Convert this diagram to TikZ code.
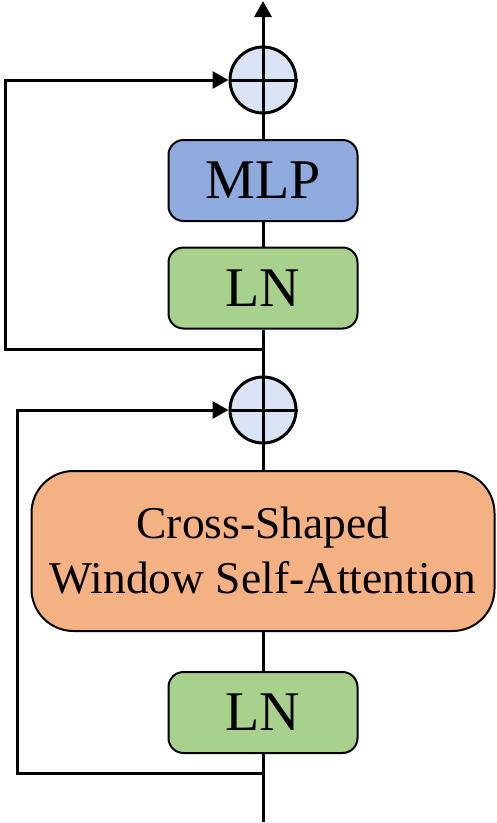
\documentclass[tikz,border=0pt]{standalone}
\usepackage{fontspec}
\setmainfont{Liberation Serif}
\usetikzlibrary{arrows.meta}
\definecolor{mlpblue}{HTML}{8FAADC}
\definecolor{lngreen}{HTML}{A9D18E}
\definecolor{attorange}{HTML}{F4B183}
\definecolor{addfill}{HTML}{DAE3F3}
\tikzset{
  blockbox/.style={draw=black, line width=2pt, rounded corners=15pt, minimum width=189pt, minimum height=81pt, inner sep=0pt, font=\fontsize{56}{60}\selectfont},
  attbox/.style={draw=black, fill=attorange, line width=2pt, rounded corners=42pt, minimum width=463pt, minimum height=160pt, inner sep=0pt, align=center, font=\fontsize{45.5}{55}\selectfont},
  addnode/.style={draw=black, fill=addfill, circle, line width=3pt, minimum size=66pt, inner sep=0pt},
  conn/.style={line width=3pt},
  arr/.style={line width=3pt, -{Triangle[length=16pt,width=17pt]}}
}
\begin{document}
\begin{tikzpicture}[x=1pt,y=-1pt]
\useasboundingbox (0,0) rectangle (497,823);
% nodes
\node[addnode] (add1) at (263,80) {};
\node[blockbox, fill=mlpblue] (mlp) at (263,180.5) {MLP};
\node[blockbox, fill=lngreen] (ln1) at (263,288) {LN};
\node[addnode] (add2) at (263,410) {};
\node[attbox] (att) at (263,551) {Cross-Shaped\\Window Self-Attention};
\node[blockbox, fill=lngreen] (ln2) at (263,712.5) {LN};
% coordinates
\coordinate (in) at (263,822);
\coordinate (out) at (263,1);
\coordinate (split2) at (263,773);
\coordinate (l2b) at (17,773);
\coordinate (l2t) at (17,410);
\coordinate (split1) at (263,349);
\coordinate (l1b) at (5,349);
\coordinate (l1t) at (5,80);
% plus signs
\draw[conn] (add1.west) -- (add1.east) (add1.north) -- (add1.south);
\draw[conn] (add2.west) -- (add2.east) (add2.north) -- (add2.south);
% main line
\draw[conn] (in) -- (ln2.south);
\draw[conn] (ln2.north) -- (att.south);
\draw[conn] (att.north) -- (add2.south);
\draw[conn] (add2.north) -- (ln1.south);
\draw[conn] (ln1.north) -- (mlp.south);
\draw[conn] (mlp.north) -- (add1.south);
\draw[arr] (add1.north) -- (out);
% skip connections
\draw[arr, line join=miter] (split2) -- (l2b) -- (l2t) -- (add2.west);
\draw[arr, line join=miter] (split1) -- (l1b) -- (l1t) -- (add1.west);
\end{tikzpicture}
\end{document}
